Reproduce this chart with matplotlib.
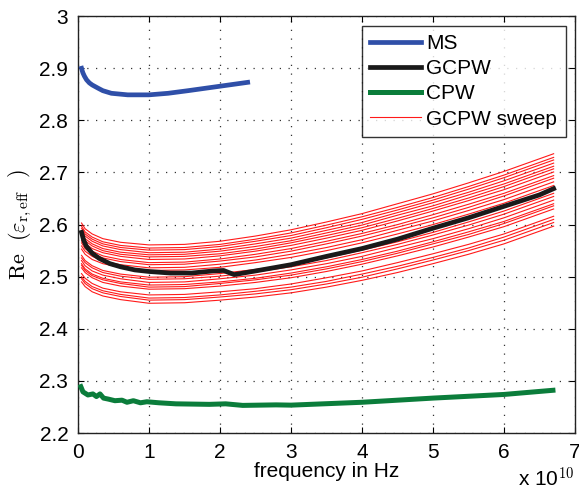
import matplotlib
matplotlib.use('Agg')
import matplotlib.pyplot as plt

# frequency axis is in units of 1e10 Hz
ms_freq = [0.05, 0.06, 0.07, 0.09, 0.12, 0.16, 0.2, 0.28, 0.35, 0.47, 0.7, 1.0,
           1.27, 1.55, 1.97, 2.39]
ms_vals = [2.900, 2.895, 2.891, 2.885, 2.878, 2.872, 2.868, 2.862, 2.857, 2.852,
           2.849, 2.849, 2.852, 2.857, 2.865, 2.873]

gcpw_freq = [0.05, 0.08, 0.12, 0.2, 0.3, 0.45, 0.6, 0.8, 1.0, 1.3, 1.6, 1.9, 2.05,
             2.2, 2.5, 3.0, 3.5, 4.0, 4.5, 5.0, 5.5, 6.0, 6.5, 6.7]
gcpw_vals = [2.585, 2.570, 2.558, 2.545, 2.535, 2.525, 2.519, 2.513, 2.510, 2.507,
             2.507, 2.511, 2.512, 2.504, 2.511, 2.523, 2.539, 2.554, 2.572, 2.593,
             2.613, 2.635, 2.657, 2.669]

cpw_freq = [0.04, 0.07, 0.14, 0.21, 0.26, 0.31, 0.36, 0.43, 0.52, 0.62, 0.69, 0.78,
            0.88, 0.97, 1.14, 1.38, 1.85, 2.08, 2.32, 2.79, 3.0, 4.0, 5.0, 6.0, 6.69]
cpw_vals = [2.289, 2.279, 2.273, 2.275, 2.270, 2.275, 2.267, 2.265, 2.262, 2.263,
            2.259, 2.262, 2.258, 2.260, 2.258, 2.256, 2.255, 2.256, 2.253, 2.254,
            2.2535, 2.259, 2.267, 2.274, 2.282]

sweep_freq = [0.05, 0.1, 0.2, 0.35, 0.6, 1.0, 1.5, 2.0, 2.5, 3.0, 3.5, 4.0, 4.5,
              5.0, 5.5, 6.0, 6.7]
sweep_vals = [
    [2.603, 2.592, 2.582, 2.573, 2.566, 2.561, 2.562, 2.568, 2.578, 2.590, 2.605, 2.621, 2.640, 2.659, 2.680, 2.702, 2.736],
    [2.597, 2.586, 2.576, 2.567, 2.560, 2.555, 2.556, 2.562, 2.572, 2.584, 2.599, 2.615, 2.633, 2.652, 2.673, 2.695, 2.729],
    [2.593, 2.582, 2.572, 2.563, 2.556, 2.551, 2.552, 2.558, 2.568, 2.579, 2.594, 2.610, 2.628, 2.647, 2.668, 2.690, 2.724],
    [2.588, 2.578, 2.568, 2.559, 2.552, 2.546, 2.547, 2.553, 2.563, 2.574, 2.589, 2.604, 2.623, 2.642, 2.662, 2.684, 2.718],
    [2.584, 2.573, 2.563, 2.554, 2.547, 2.542, 2.543, 2.549, 2.558, 2.569, 2.584, 2.599, 2.618, 2.636, 2.657, 2.678, 2.712],
    [2.579, 2.569, 2.559, 2.550, 2.543, 2.538, 2.539, 2.544, 2.553, 2.565, 2.579, 2.594, 2.612, 2.631, 2.651, 2.673, 2.707],
    [2.575, 2.564, 2.554, 2.546, 2.539, 2.533, 2.534, 2.540, 2.549, 2.560, 2.574, 2.589, 2.607, 2.626, 2.646, 2.667, 2.701],
    [2.569, 2.559, 2.549, 2.540, 2.533, 2.527, 2.528, 2.534, 2.543, 2.554, 2.568, 2.583, 2.600, 2.619, 2.639, 2.660, 2.694],
    [2.565, 2.554, 2.544, 2.536, 2.529, 2.523, 2.524, 2.530, 2.538, 2.549, 2.563, 2.578, 2.595, 2.613, 2.633, 2.655, 2.689],
    [2.559, 2.549, 2.539, 2.530, 2.523, 2.517, 2.518, 2.524, 2.532, 2.543, 2.556, 2.571, 2.589, 2.607, 2.627, 2.648, 2.682],
    [2.553, 2.543, 2.533, 2.525, 2.518, 2.512, 2.513, 2.518, 2.527, 2.537, 2.550, 2.565, 2.582, 2.600, 2.620, 2.641, 2.675],
    [2.541, 2.531, 2.521, 2.512, 2.505, 2.499, 2.500, 2.506, 2.514, 2.523, 2.536, 2.551, 2.567, 2.585, 2.605, 2.626, 2.660],
    [2.536, 2.527, 2.517, 2.508, 2.501, 2.495, 2.496, 2.501, 2.509, 2.519, 2.531, 2.546, 2.562, 2.580, 2.599, 2.620, 2.654],
    [2.531, 2.521, 2.511, 2.503, 2.496, 2.489, 2.490, 2.496, 2.503, 2.513, 2.525, 2.539, 2.556, 2.573, 2.592, 2.613, 2.647],
    [2.525, 2.515, 2.505, 2.497, 2.490, 2.484, 2.485, 2.490, 2.497, 2.507, 2.519, 2.533, 2.549, 2.567, 2.586, 2.606, 2.640],
    [2.522, 2.512, 2.502, 2.494, 2.487, 2.480, 2.481, 2.487, 2.494, 2.503, 2.515, 2.529, 2.545, 2.563, 2.581, 2.602, 2.636],
    [2.517, 2.508, 2.498, 2.489, 2.482, 2.476, 2.477, 2.482, 2.489, 2.498, 2.510, 2.524, 2.540, 2.557, 2.576, 2.596, 2.630],
    [2.506, 2.497, 2.487, 2.478, 2.471, 2.465, 2.466, 2.471, 2.477, 2.486, 2.498, 2.511, 2.527, 2.544, 2.562, 2.582, 2.616],
    [2.500, 2.491, 2.481, 2.473, 2.466, 2.459, 2.460, 2.465, 2.472, 2.480, 2.491, 2.505, 2.520, 2.537, 2.555, 2.576, 2.610],
    [2.496, 2.487, 2.477, 2.469, 2.462, 2.455, 2.456, 2.461, 2.467, 2.475, 2.486, 2.499, 2.515, 2.532, 2.550, 2.570, 2.604],
    [2.490, 2.481, 2.471, 2.463, 2.456, 2.449, 2.450, 2.455, 2.461, 2.469, 2.480, 2.493, 2.508, 2.525, 2.543, 2.563, 2.597],
]

xticks = [0, 1, 2, 3, 4, 5, 6, 7]
yticks = [2.2, 2.3, 2.4, 2.5, 2.6, 2.7, 2.8, 2.9, 3.0]
ytick_labels = ['2.2', '2.3', '2.4', '2.5', '2.6', '2.7', '2.8', '2.9', '3']

plt.rcParams['font.family'] = ['Liberation Sans', 'DejaVu Sans']
plt.rcParams['mathtext.fontset'] = 'cm'

fig = plt.figure(figsize=(5.79, 4.9), dpi=100)
ax = fig.add_axes([0.1347, 0.1163, 0.8583, 0.8507])

ax.plot(ms_freq, ms_vals, color='#2f4fa8', lw=3.4, label='MS', zorder=4)
ax.plot(gcpw_freq, gcpw_vals, color='#1a1a1a', lw=3.4, label='GCPW', zorder=5)
ax.plot(cpw_freq, cpw_vals, color='#0b7d3b', lw=3.6, label='CPW', zorder=4)
for i, row in enumerate(sweep_vals):
    ax.plot(sweep_freq, row, color='#ff1a1a', lw=0.8,
            label='GCPW sweep' if i == 0 else None, zorder=3)

ax.set_xlim(0, 7)
ax.set_ylim(2.2, 3.0)
ax.set_xticks(xticks)
ax.set_xticklabels([str(t) for t in xticks])
ax.set_yticks(yticks)
ax.set_yticklabels(ytick_labels)
ax.tick_params(direction='in', top=True, right=True, labelsize=15, length=4,
               width=0.8, pad=7)
ax.grid(True, linestyle=(0, (1, 6)), color='#333333', lw=0.9)
for s in ax.spines.values():
    s.set_linewidth(1.0)
    s.set_color('#222222')

ax.set_xlabel('frequency in Hz', fontsize=15, labelpad=0)
ax.set_ylabel(r'$\mathrm{Re}\ \ (\varepsilon_{\mathrm{r,eff}}\ \ )$', fontsize=16,
              labelpad=4)
ax.text(1.0, -0.1295, r'x 10$^{10}$', transform=ax.transAxes, ha='right',
        va='baseline', fontsize=15)

leg = ax.legend(loc='upper right', fontsize=15, handlelength=2.45, handletextpad=0.25,
                labelspacing=0.3, borderaxespad=0.45, borderpad=0.4, fancybox=False)
leg.get_frame().set_edgecolor('black')
leg.get_frame().set_linewidth(1.0)

plt.savefig('out.png', dpi=100)
